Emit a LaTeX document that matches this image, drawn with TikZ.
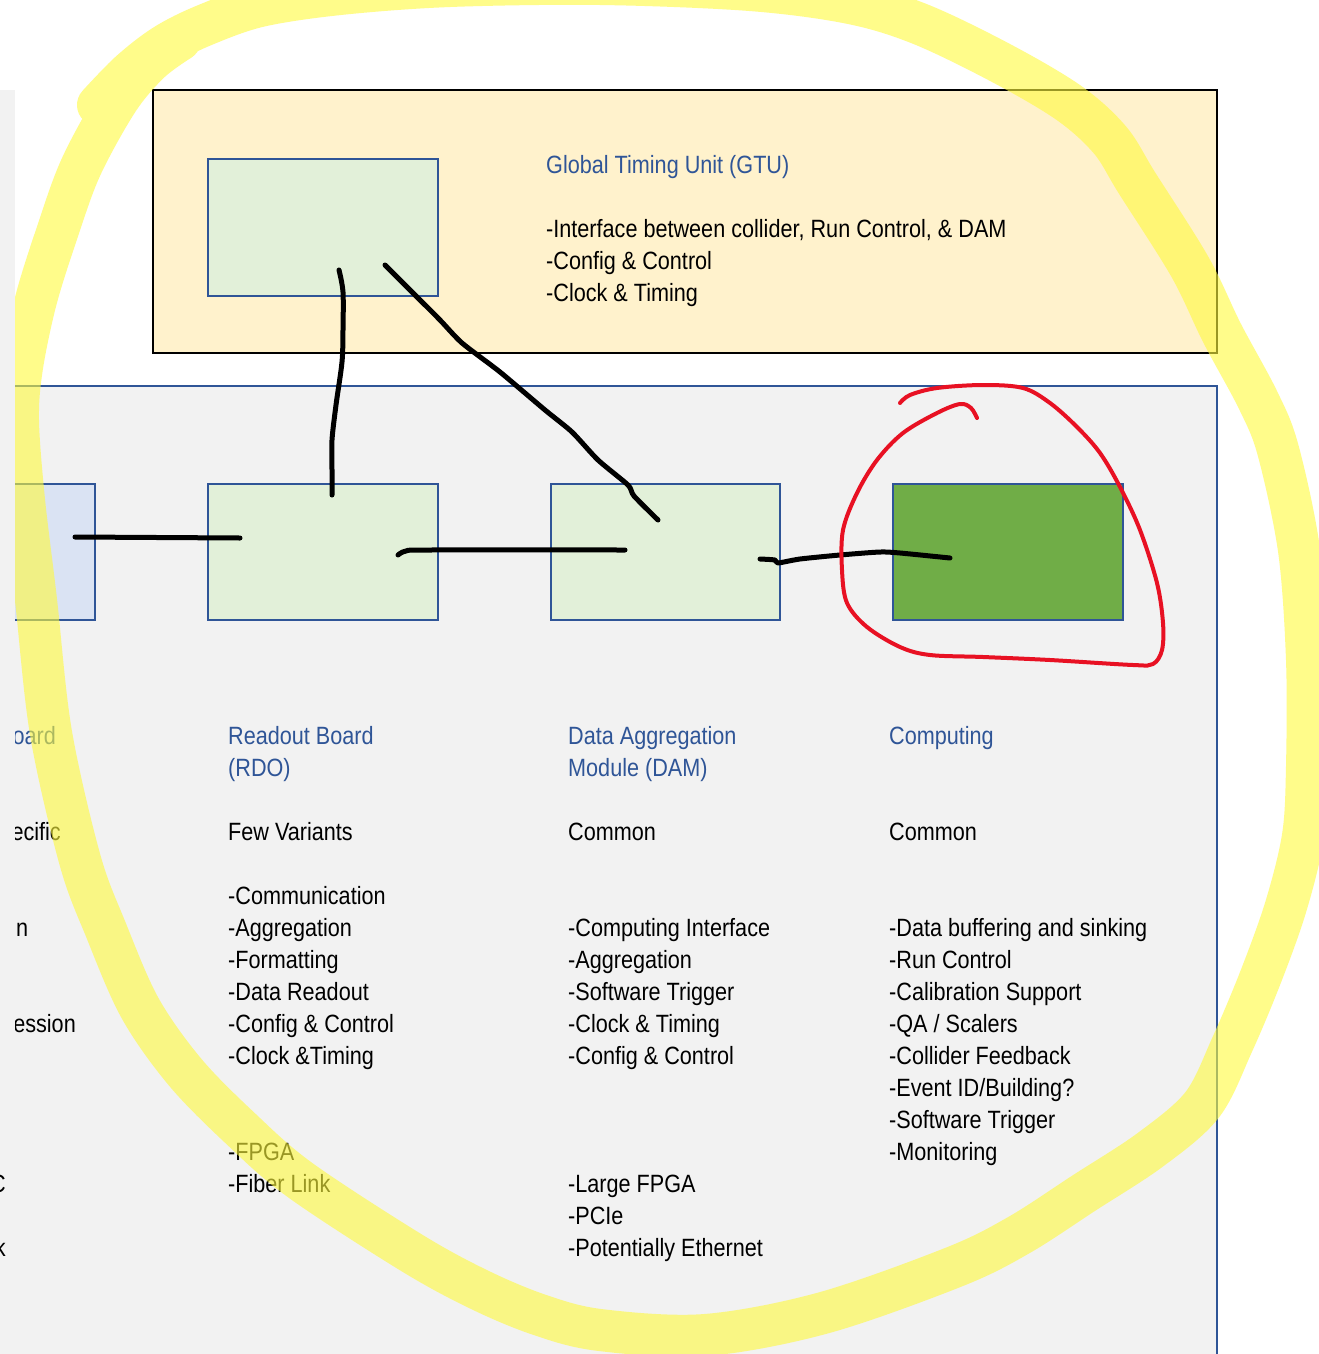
\documentclass[tikz,border=0pt]{standalone}
\usepackage{fontspec}
\setmainfont{Liberation Sans}[FakeStretch=0.865]
\definecolor{panelgray}{HTML}{F2F2F2}
\definecolor{gtuorange}{HTML}{FFF2CC}
\definecolor{lightgreen}{HTML}{E2F0D9}
\definecolor{lightblue}{HTML}{DAE3F3}
\definecolor{darkgreen}{HTML}{70AD47}
\definecolor{edgeblue}{HTML}{2F5597}
\definecolor{tblue}{HTML}{2F5597}
\definecolor{penred}{HTML}{E81123}
\definecolor{hiyellow}{RGB}{255,250,60}
\begin{document}
\begin{tikzpicture}[x=1pt,y=-1pt,
  txt/.style={font=\fontsize{25}{32}\selectfont, inner sep=0pt, anchor=base west, text=black},
  btxt/.style={txt, text=tblue},
  blk/.style={draw=edgeblue, line width=2.5pt, inner sep=0pt, minimum height=136pt},
  hand/.style={draw=black, line width=5pt, line cap=round, line join=round},
  redpen/.style={draw=penred, line width=4pt, line cap=round, line join=round},
  hilite/.style={draw=hiyellow, line width=42pt, line cap=round, line join=round, draw opacity=0.6}]
\useasboundingbox (0,0) rectangle (1319,1354);
\fill[white] (0,0) rectangle (1319,1354);
% lower panel
\fill[panelgray] (15,386) rectangle (1217,1360);
\draw[edgeblue, line width=2pt] (15,386) -- (1217,386) -- (1217,1360);
% GTU
\node[draw=black, line width=2pt, fill=gtuorange, inner sep=0pt, minimum width=1064pt, minimum height=263pt] (gtu) at (685,221.5) {};
\node[blk, fill=lightgreen, minimum width=230pt, minimum height=137pt] (gtuin) at (323,227.5) {};
\node[btxt] (gtut) at (546,173) {Global Timing Unit (GTU)};
\node[txt] (gtu1) at (546,237.5) {-Interface between collider, Run Control, \& DAM};
\node[txt] (gtu2) at (546,269.5) {-Config \& Control};
\node[txt] (gtu3) at (546,301.5) {-Clock \& Timing};
% lower boxes
\node[blk, fill=lightblue, minimum width=84pt] (feb) at (53,552) {};
\node[blk, fill=lightgreen, minimum width=230pt] (rdo) at (323,552) {};
\node[blk, fill=lightgreen, minimum width=229pt] (dam) at (665.5,552) {};
\node[blk, fill=darkgreen, minimum width=230pt] (comp) at (1008,552) {};
% left (cut) column
\begin{scope}
\clip (15,700) rectangle (300,1100);
\node[btxt, anchor=base east] (l1) at (56,744.5) {oard};
\node[txt, anchor=base east] (l2) at (61,840.5) {ecific};
\node[txt] (l3) at (16,936.5) {n};
\node[txt, anchor=base east] (l4) at (76,1032.5) {ession};
\end{scope}
% RDO column
\node[btxt] (r0) at (228,744.5) {Readout Board};
\node[btxt] (r0b) at (228,776.5) {(RDO)};
\node[txt] (r1) at (228,840.5) {Few Variants};
\node[txt] (r2) at (228,904.5) {-Communication};
\node[txt] (r3) at (228,936.5) {-Aggregation};
\node[txt] (r4) at (228,968.5) {-Formatting};
\node[txt] (r5) at (228,1000.5) {-Data Readout};
\node[txt] (r6) at (228,1032.5) {-Config \& Control};
\node[txt] (r7) at (228,1064.5) {-Clock \&Timing};
\node[txt] (r8) at (228,1160.5) {-FPGA};
\node[txt] (r9) at (228,1192.5) {-Fiber Link};
% DAM column
\node[btxt] (d0) at (568,744.5) {Data Aggregation};
\node[btxt] (d0b) at (568,776.5) {Module (DAM)};
\node[txt] (d1) at (568,840.5) {Common};
\node[txt] (d2) at (568,936.5) {-Computing Interface};
\node[txt] (d3) at (568,968.5) {-Aggregation};
\node[txt] (d4) at (568,1000.5) {-Software Trigger};
\node[txt] (d5) at (568,1032.5) {-Clock \& Timing};
\node[txt] (d6) at (568,1064.5) {-Config \& Control};
\node[txt] (d7) at (568,1192.5) {-Large FPGA};
\node[txt] (d8) at (568,1224.5) {-PCIe};
\node[txt] (d9) at (568,1256.5) {-Potentially Ethernet};
% Computing column
\node[btxt] (c0) at (889,744.5) {Computing};
\node[txt] (c1) at (889,840.5) {Common};
\node[txt] (c2) at (889,936.5) {-Data buffering and sinking};
\node[txt] (c3) at (889,968.5) {-Run Control};
\node[txt] (c4) at (889,1000.5) {-Calibration Support};
\node[txt] (c5) at (889,1032.5) {-QA / Scalers};
\node[txt] (c6) at (889,1064.5) {-Collider Feedback};
\node[txt] (c7) at (889,1096.5) {-Event ID/Building?};
\node[txt] (c8) at (889,1128.5) {-Software Trigger};
\node[txt] (c9) at (889,1160.5) {-Monitoring};
% hand-drawn connectors
\coordinate (a1) at (75,537);   \coordinate (a2) at (240,538);
\coordinate (b1) at (339,270);  \coordinate (b2) at (332,495);
\coordinate (e1) at (385,265);  \coordinate (e2) at (658,520);
\coordinate (f1) at (398,555);  \coordinate (f2) at (625,550);
\coordinate (g1) at (760,559);  \coordinate (g2) at (950,558);
\draw[hand] (a1) -- (a2);
\draw[hand] plot[smooth, tension=0.5] coordinates {(b1) (343,292) (343,330) (342,362) (336,405) (332,440) (332,470) (b2)};
\draw[hand] plot[smooth, tension=0.4] coordinates {(e1) (415,295) (440,320) (462,343) (500,372) (545,410) (572,432) (598,460) (628,485) (634,496) (e2)};
\draw[hand] plot[smooth, tension=0.5] coordinates {(f1) (406,551) (430,550) (f2)};
\draw[hand] plot[smooth, tension=0.4] coordinates {(g1) (775,560) (778,563) (800,559) (840,555) (880,552) (900,553) (g2)};
% red loop
\draw[redpen] plot[smooth, tension=0.55] coordinates {(900,403) (910,395) (937,388) (983,385) (1023,388) (1050,403) (1077,427) (1100,453) (1120,487) (1140,530) (1157,583) (1163,623) (1162,650) (1153,664) (1133,665) (1050,660) (983,657) (930,655) (900,647) (867,627) (847,603) (842,570) (843,530) (857,493) (877,460) (903,433) (937,413) (960,404) (971,408) (977,418)};
% yellow highlighter
\draw[hilite] plot[smooth, tension=0.55] coordinates {(98,105) (130,72) (165,45) (205,25) (260,6) (340,-6) (450,-14) (600,-16) (750,-10) (850,3) (920,24) (1001,63) (1069,103) (1110,140) (1137,183) (1190,267) (1222,333) (1258,400) (1278,450) (1299,550) (1307,660) (1307,766) (1303,836) (1286,906) (1261,976) (1232,1045) (1202,1105) (1150,1150) (1084,1193) (1019,1235) (954,1267) (823,1313) (705,1335) (600,1330) (540,1315) (480,1290) (412,1253) (300,1180) (240,1128) (185,1072) (140,1008) (106,930) (80,860) (51,733) (36,600) (24,500) (18,420) (22,367) (36,300) (57,233) (81,167) (118,100) (150,62) (180,40)};
% left strip of the canvas
\fill[panelgray] (0,90) rectangle (15,1354);
\node[txt, anchor=base east] (l5) at (6,1192.5) {C};
\node[txt, anchor=base east] (l6) at (6,1256.5) {k};
\end{tikzpicture}
\end{document}
